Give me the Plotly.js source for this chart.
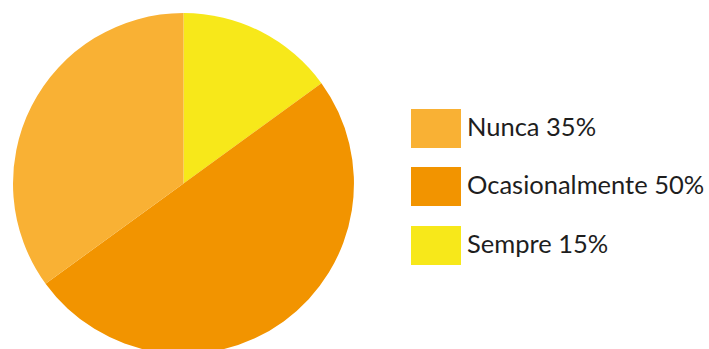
<!DOCTYPE html>
<html>
<head>
<meta charset="utf-8">
<script src="https://cdn.plot.ly/plotly-3.0.1.min.js"></script>
<style>
html,body{margin:0;padding:0;overflow:hidden;background:#fff;}
#chart{width:709px;height:360px;}
</style>
</head>
<body>
<div id="chart"></div>
<script>
var categories = ["Nunca", "Ocasionalmente", "Sempre"];
var percentages = [35, 50, 15];
var colors = ["#F9B134", "#F29400", "#F7E81A"];

var W = 709, H = 360;
function px(x){ return x / W; }
function py(y){ return 1 - y / H; }

var shapes = [], annotations = [];
var boxTop = [109, 167, 226];
categories.forEach(function(c, i){
  shapes.push({
    type: "rect", xref: "paper", yref: "paper",
    x0: px(411), x1: px(461), y0: py(boxTop[i] + 39), y1: py(boxTop[i]),
    fillcolor: colors[i], line: {width: 0}
  });
  annotations.push({
    xref: "paper", yref: "paper", x: px(465), y: py(boxTop[i] + 17),
    xanchor: "left", yanchor: "middle", showarrow: false,
    text: c + " " + percentages[i] + "%",
    font: {family: "Lato, sans-serif", size: 25.5, color: "#1E1E1E"}
  });
});

var data = [{
  type: "pie",
  labels: categories.slice().reverse(),
  values: percentages.slice().reverse(),
  marker: {colors: colors.slice().reverse(), line: {width: 0}},
  sort: false,
  direction: "clockwise",
  rotation: 0,
  textinfo: "none",
  hoverinfo: "none",
  showlegend: false,
  domain: {x: [px(13), px(354)], y: [py(354), py(13)]}
}];

var layout = {
  width: W, height: H,
  margin: {l: 0, r: 0, t: 0, b: 0},
  paper_bgcolor: "#ffffff",
  showlegend: false,
  shapes: shapes,
  annotations: annotations
};

Plotly.newPlot("chart", data, layout, {displayModeBar: false, staticPlot: true});
</script>
</body>
</html>
